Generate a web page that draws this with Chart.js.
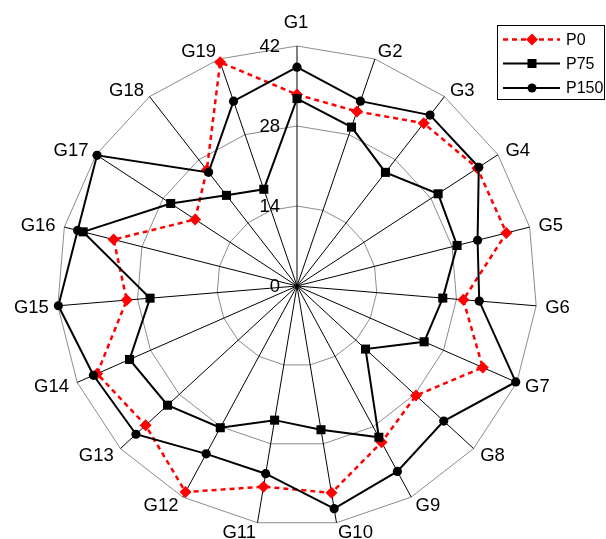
<!DOCTYPE html>
<html>
<head>
<meta charset="utf-8">
<title>Radar</title>
<script src="https://cdn.jsdelivr.net/npm/chart.js@4.4.1/dist/chart.umd.min.js"></script>
<style>
    html, body { margin: 0; padding: 0; background: #fff; }
    #wrap { position: relative; width: 606px; height: 539px; }
</style>
</head>
<body>
<div id="wrap"><canvas id="radar-chart"></canvas></div>
<script>
// --- Data ---
const categories = ['G1', 'G2', 'G3', 'G4', 'G5', 'G6', 'G7', 'G8', 'G9', 'G10',
                    'G11', 'G12', 'G13', 'G14', 'G15', 'G16', 'G17', 'G18', 'G19'];
const p0Values   = [33.5, 32.3, 36.1, 37.7, 37.8, 29.2, 35.5, 28.3, 31.1, 36.7,
                    35.6, 41.0, 36.0, 38.2, 29.9, 33.1, 21.3, 25.7, 41.4];
const p75Values  = [32.8, 29.4, 25.2, 29.5, 28.9, 25.6, 24.3, 16.3, 30.1, 25.5,
                    23.8, 28.2, 30.8, 32.0, 25.8, 38.6, 26.4, 20.1, 17.9];
const p150Values = [38.3, 34.2, 37.9, 38.0, 32.6, 32.0, 41.8, 34.9, 36.9, 39.5,
                    33.3, 33.4, 38.3, 38.9, 41.9, 39.6, 41.8, 25.2, 34.2];
const tickValues = [0, 14, 28, 42];
const seriesNames = ['P0', 'P75', 'P150'];

const FONT = '18.5px "Liberation Sans", Arial, sans-serif';
const LEGEND_FONT = '16px "Liberation Sans", Arial, sans-serif';

// draw a marker like the chart points (used by the legend)
function drawMarker(ctx, style, x, y, color) {
    ctx.save();
    ctx.fillStyle = color;
    ctx.beginPath();
    if (style === 'rectRot') {
        ctx.moveTo(x - 6, y); ctx.lineTo(x, y - 6); ctx.lineTo(x + 6, y); ctx.lineTo(x, y + 6);
        ctx.closePath();
    } else if (style === 'rect') {
        ctx.rect(x - 4.5, y - 4.5, 9, 9);
    } else {
        ctx.arc(x, y, 4.5, 0, Math.PI * 2);
    }
    ctx.fill();
    ctx.restore();
}

// point labels, tick labels and legend box
const overlayPlugin = {
    id: 'overlay',
    afterDraw(chart) {
        const ctx = chart.ctx;
        const scale = chart.scales.r;
        ctx.save();
        ctx.font = FONT;
        ctx.fillStyle = '#000';

        // category labels round the outside
        categories.forEach((label, i) => {
            const p = scale.getPointPosition(i, scale.drawingArea + 9);
            const s = Math.sin(p.angle + Math.PI / 2);
            const c = Math.cos(p.angle + Math.PI / 2);
            if (Math.abs(s) < 0.05 && c > 0) {
                ctx.textAlign = 'center';
                ctx.textBaseline = 'alphabetic';
                ctx.fillText(label, p.x - 1, p.y - 9);
                return;
            }
            ctx.textAlign = s > 0 ? 'left' : 'right';
            ctx.textBaseline = 'middle';
            ctx.fillText(label, p.x, p.y + 1);
        });

        // radial tick labels, left of the G1 spoke
        ctx.textAlign = 'right';
        ctx.textBaseline = 'middle';
        tickValues.forEach(v => {
            const d = scale.getDistanceFromCenterForValue(v);
            ctx.fillText(String(v), scale.xCenter - 17, scale.yCenter - d + 1);
        });

        // legend
        ctx.font = LEGEND_FONT;
        ctx.strokeStyle = '#000';
        ctx.lineWidth = 1;
        ctx.strokeRect(497.5, 25.5, 107, 74);
        const rows = [39.5, 63.5, 88];
        chart.data.datasets.forEach((ds, i) => {
            const y = rows[i];
            ctx.save();
            ctx.strokeStyle = ds.borderColor;
            ctx.lineWidth = ds.borderWidth;
            ctx.setLineDash(ds.borderDash || []);
            ctx.beginPath();
            ctx.moveTo(503, y);
            ctx.lineTo(560, y);
            ctx.stroke();
            ctx.restore();
            drawMarker(ctx, ds.pointStyle, 532, y, ds.pointBackgroundColor);
            ctx.textAlign = 'left';
            ctx.fillText(ds.label, 566, y + 1);
        });
        ctx.restore();
    }
};

const ctx = document.getElementById('radar-chart').getContext('2d');
new Chart(ctx, {
    type: 'radar',
    data: {
        labels: categories,
        datasets: [
            {
                label: seriesNames[0],
                data: p0Values,
                borderColor: '#ff0000',
                borderWidth: 2.5,
                borderDash: [5, 4],
                pointStyle: 'rectRot',
                pointRadius: 6,
                pointBackgroundColor: '#ff0000',
                pointBorderColor: '#ff0000',
                pointBorderWidth: 0,
                fill: false,
                order: 3
            },
            {
                label: seriesNames[1],
                data: p75Values,
                borderColor: '#000000',
                borderWidth: 2,
                pointStyle: 'rect',
                pointRadius: 6.4,
                pointBackgroundColor: '#000000',
                pointBorderColor: '#000000',
                pointBorderWidth: 0,
                fill: false,
                order: 2
            },
            {
                label: seriesNames[2],
                data: p150Values,
                borderColor: '#000000',
                borderWidth: 2,
                pointStyle: 'circle',
                pointRadius: 4.6,
                pointBackgroundColor: '#000000',
                pointBorderColor: '#000000',
                pointBorderWidth: 0,
                fill: false,
                order: 1
            }
        ]
    },
    options: {
        responsive: true,
        maintainAspectRatio: false,
        animation: false,
        elements: { line: { tension: 0 } },
        layout: { padding: { left: 57, top: 46, right: 69, bottom: 13 } },
        plugins: {
            legend: { display: false },
            tooltip: { enabled: false }
        },
        scales: {
            r: {
                min: 0,
                max: 42,
                ticks: { stepSize: 14, display: false },
                grid: { color: '#8c8c8c', lineWidth: 1, circular: false },
                angleLines: { color: '#000000', lineWidth: 1 },
                pointLabels: { display: false }
            }
        }
    },
    plugins: [overlayPlugin]
});
</script>
</body>
</html>
